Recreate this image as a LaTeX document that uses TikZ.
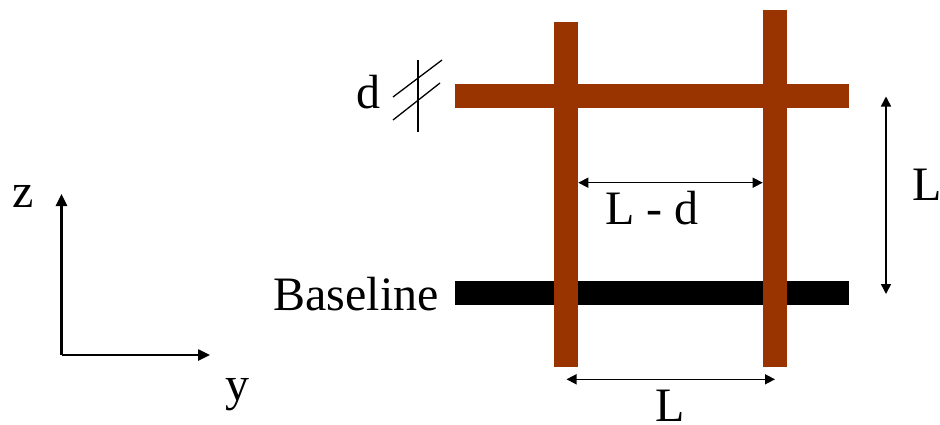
\documentclass[tikz,border=0pt]{standalone}
\usepackage{fontspec}
\setmainfont{Liberation Serif}
\usetikzlibrary{arrows.meta}
\definecolor{rodbrown}{HTML}{993300}
\begin{document}
\begin{tikzpicture}[x=1pt,y=-1pt,
  lbl/.style={inner sep=0pt,anchor=base,font=\fontsize{48}{56}\selectfont},
  bar/.style={inner sep=0pt,outer sep=0pt,draw=none},
  dim/.style={line width=1.5pt,{Triangle[length=10pt,width=10pt]}-{Triangle[length=10pt,width=10pt]}},
  axis/.style={line width=2.5pt,-{Triangle[length=12pt,width=11pt]}},
  slash/.style={line width=1.3pt}]
\useasboundingbox (0,0) rectangle (940,424);
% baseline bar
\node[bar,fill=black,minimum width=394pt,minimum height=24pt] (base) at (652,293) {};
% vertical rods
\node[bar,fill=rodbrown,minimum width=24.8pt,minimum height=344.4pt] (vl) at (566,194.5) {};
\node[bar,fill=rodbrown,minimum width=24.6pt,minimum height=356.4pt] (vr) at (775,188.5) {};
% horizontal rod
\node[bar,fill=rodbrown,minimum width=394pt,minimum height=24.3pt] (hr) at (652,96.2) {};
% labels
\node[lbl] (tbase) at (356,310) {Baseline};
\node[lbl] (td) at (368.5,108) {d};
\node[lbl] (tz) at (23,207) {z};
\node[lbl] (ty) at (237.5,400) {y};
\node[lbl] (tLd) at (652,224) {L - d};
\node[lbl] (tLb) at (670,421) {L};
\node[lbl] (tLr) at (927.5,200) {L};
% dimension arrows
\coordinate (ldl) at (578.3,182.7);
\coordinate (ldr) at (762.7,182.7);
\draw[dim] (ldl) -- (ldr);
\coordinate (lbl1) at (566.5,379.3);
\coordinate (lbl2) at (775,379.3);
\draw[dim] (lbl1) -- (lbl2);
\coordinate (lrt) at (886,96.5);
\coordinate (lrb) at (886,294);
\draw[dim] (lrt) -- (lrb);
% axes
\coordinate (o) at (61.5,355);
\coordinate (zt) at (61.5,194);
\coordinate (yt) at (210,355);
\draw[axis] (o) -- (zt);
\draw[axis] (o) -- (yt);
% diameter marks
\coordinate (s1) at (418,60);
\coordinate (s2) at (418,132);
\coordinate (d1a) at (393,97);
\coordinate (d1b) at (442,60);
\coordinate (d2a) at (393,120);
\coordinate (d2b) at (440,83);
\draw[slash] (s1) -- (s2);
\draw[slash] (d1a) -- (d1b);
\draw[slash] (d2a) -- (d2b);
\end{tikzpicture}
\end{document}
